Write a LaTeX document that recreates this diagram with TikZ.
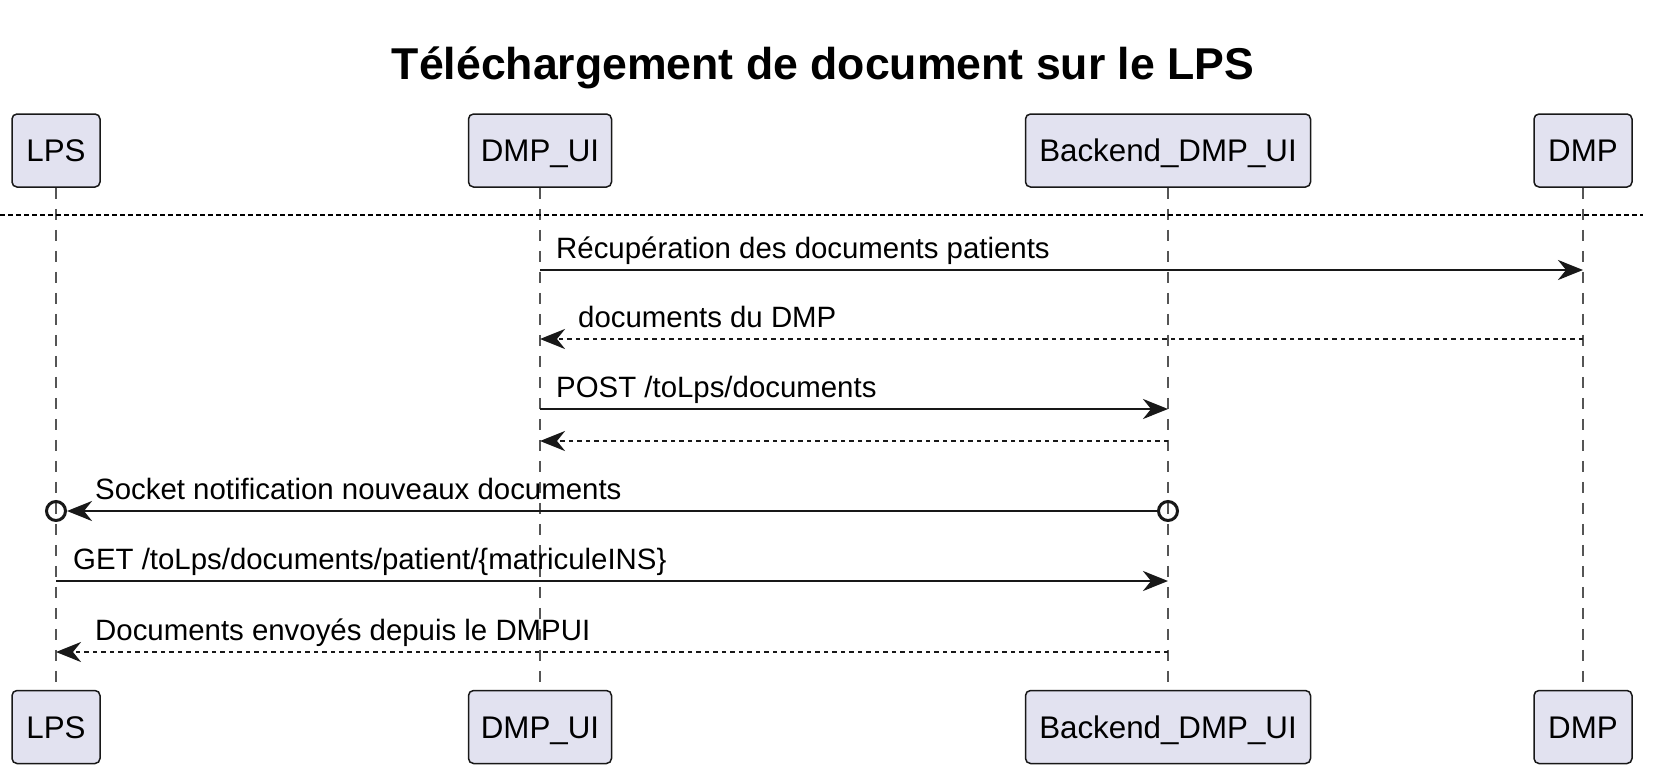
\documentclass[tikz,border=0pt]{standalone}
\usepackage{fontspec}
\setmainfont{Liberation Sans}
\usetikzlibrary{arrows.meta}
\definecolor{partfill}{HTML}{E2E2F0}
\definecolor{partline}{HTML}{181818}
\definecolor{lifeline}{HTML}{555555}
\definecolor{msgcol}{HTML}{181818}
\begin{document}
\begin{tikzpicture}[x=1pt,y=-1pt,
  part/.style={draw=partline, fill=partfill, line width=1.5pt, rounded corners=5pt,
    minimum height=73pt, inner sep=0pt, text height=22pt, text depth=0pt,
    font=\fontsize{31.3}{36}\selectfont, text=black},
  life/.style={draw=lifeline, line width=1.7pt, dash pattern=on 11pt off 10pt},
  msg/.style={draw=msgcol, line width=2.8pt, -{Stealth[length=25pt,width=20pt,inset=8pt]}},
  ret/.style={msg, dash pattern=on 4.5pt off 4pt},
  lbl/.style={anchor=base west, inner sep=0pt, font=\fontsize{29.4}{34}\selectfont, text=black},
  endcirc/.style={circle, draw=msgcol, line width=3pt, minimum size=19pt, inner sep=0pt},
  divider/.style={draw=black, line width=2.3pt, dash pattern=on 4.5pt off 3.5pt}
]
\useasboundingbox (0,0) rectangle (1659,776);

% title
\node[anchor=base, inner sep=0pt, font=\fontsize{44.6}{50}\bfseries\selectfont] (title) at (823,80) {Téléchargement de document sur le LPS};

% participants (top)
\node[part, minimum width=88pt]  (lpsT) at (56,150.5)   {LPS};
\node[part, minimum width=143pt] (uiT)  at (540,150.5)  {DMP\_UI};
\node[part, minimum width=285pt] (beT)  at (1168,150.5) {Backend\_DMP\_UI};
\node[part, minimum width=98pt]  (dmpT) at (1583,150.5) {DMP};
% participants (bottom)
\node[part, minimum width=88pt]  (lpsB) at (56,727)   {LPS};
\node[part, minimum width=143pt] (uiB)  at (540,727)  {DMP\_UI};
\node[part, minimum width=285pt] (beB)  at (1168,727) {Backend\_DMP\_UI};
\node[part, minimum width=98pt]  (dmpB) at (1583,727) {DMP};

% lifelines
\draw[life] (lpsT.south) -- (lpsB.north);
\draw[life] (uiT.south) -- (uiB.north);
\draw[life] (beT.south) -- (beB.north);
\draw[life] (dmpT.south) -- (dmpB.north);

% divider
\coordinate (divL) at (0,215);
\coordinate (divR) at (1643,215);
\draw[divider] (divL) -- (divR);

% message anchor points on lifelines
\coordinate (ui1) at (540,270);   \coordinate (dmp1) at (1583,270);
\coordinate (dmp2) at (1583,339); \coordinate (ui2) at (540,339);
\coordinate (ui3) at (540,409);   \coordinate (be3) at (1168,409);
\coordinate (be4) at (1168,441);  \coordinate (ui4) at (540,441);
\coordinate (lps6) at (56,581);   \coordinate (be6) at (1168,581);
\coordinate (be7) at (1168,652);  \coordinate (lps7) at (56,652);

% 1
\draw[msg] (ui1) -- (dmp1);
\node[lbl] (l1) at (556,258) {Récupération des documents patients};
% 2
\draw[ret] (dmp2) -- (ui2);
\node[lbl] (l2) at (578,327) {documents du DMP};
% 3
\draw[msg] (ui3) -- (be3);
\node[lbl] (l3) at (556,397) {POST /toLps/documents};
% 4
\draw[ret] (be4) -- (ui4);
% 5
\node[endcirc] (c5L) at (56,511) {};
\node[endcirc] (c5R) at (1168,511) {};
\draw[msg] (c5R.west) -- (c5L.east);
\node[lbl] (l5) at (95,499) {Socket notification nouveaux documents};
% 6
\draw[msg] (lps6) -- (be6);
\node[lbl] (l6) at (73,569) {GET /toLps/documents/patient/\{matriculeINS\}};
% 7
\draw[ret] (be7) -- (lps7);
\node[lbl] (l7) at (95,640) {Documents envoyés depuis le DMPUI};
\end{tikzpicture}
\end{document}
